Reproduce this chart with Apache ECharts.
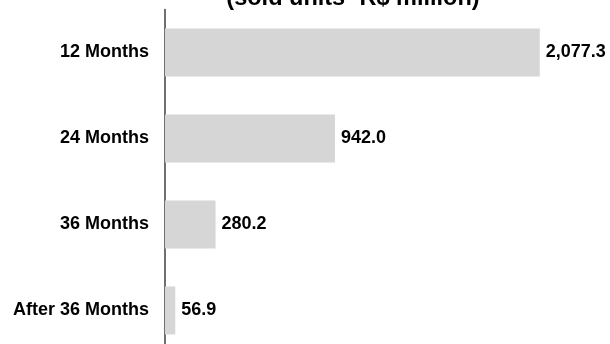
<!DOCTYPE html>
<html>
<head>
<meta charset="utf-8">
<script src="https://cdn.jsdelivr.net/npm/echarts@6/dist/echarts.min.js"></script>
<style>
  html, body { margin: 0; padding: 0; background: #ffffff; overflow: hidden; }
  /* taller than the window so the last band runs past the bottom edge */
  #chart { width: 610px; height: 364px; }
</style>
</head>
<body>
<div id="chart"></div>
<script>
// Sold units by age bracket (R$ million)
const categories = ['12 Months', '24 Months', '36 Months', 'After 36 Months'];
const soldValues = [2077.3, 942.0, 280.2, 56.9];
const titleText = '(sold units- R$ million)';

const FONT = '"Liberation Sans", Arial, Helvetica, sans-serif';

const chart = echarts.init(document.getElementById('chart'), null, { renderer: 'canvas' });

chart.setOption({
  animation: false,
  backgroundColor: '#ffffff',
  graphic: [{
    type: 'text',
    x: 353,
    y: -13,
    style: {
      text: titleText,
      align: 'center',
      fill: '#000000',
      font: 'bold 23.5px ' + FONT
    },
    silent: true
  }],
  grid: { left: 165, top: 9.5, width: 433, height: 344, containLabel: false },
  xAxis: {
    type: 'value',
    min: 0,
    max: 2400,
    show: false
  },
  yAxis: {
    type: 'category',
    data: categories,
    inverse: true,
    axisLine: { show: true, lineStyle: { color: '#404040', width: 1.5 } },
    axisTick: { show: false },
    axisLabel: {
      margin: 16,
      color: '#000000',
      fontFamily: FONT,
      fontWeight: 'bold',
      fontSize: 18
    }
  },
  series: [{
    type: 'bar',
    data: soldValues,
    barWidth: 48,
    itemStyle: { color: '#d6d6d6' },
    label: {
      show: true,
      position: 'right',
      distance: 6,
      color: '#000000',
      fontFamily: FONT,
      fontWeight: 'bold',
      fontSize: 18,
      formatter: p => p.value.toLocaleString('en-US', { minimumFractionDigits: 1, maximumFractionDigits: 1 })
    }
  }]
});
</script>
</body>
</html>
